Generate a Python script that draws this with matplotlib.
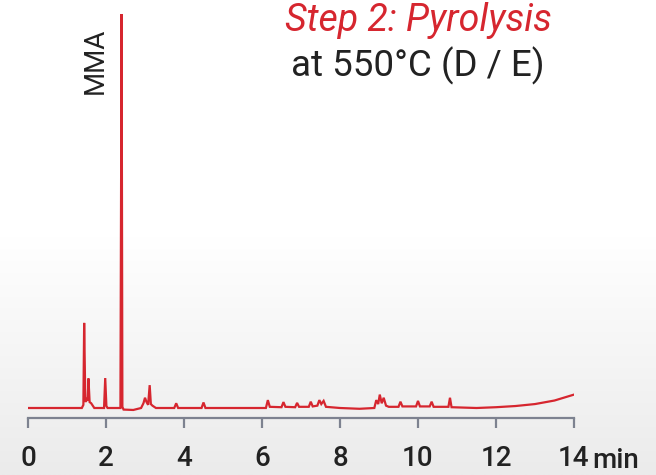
import numpy as np
import matplotlib
matplotlib.use("Agg")
import matplotlib.pyplot as plt

# ===============================
# data
# ===============================

trace_time = [0.00, 1.38, 1.42, 1.44, 1.47, 1.50, 1.53, 1.55, 1.58, 1.62, 1.70,
              1.95, 1.98, 2.01, 2.04, 2.37, 2.40, 2.42, 2.45, 2.70, 2.90, 2.96,
              3.00, 3.04, 3.08, 3.12, 3.15, 3.19, 3.28, 3.75, 3.80, 3.85, 4.45,
              4.50, 4.55, 6.10, 6.15, 6.20, 6.50, 6.55, 6.60, 6.85, 6.90, 6.95,
              7.20, 7.25, 7.30, 7.42, 7.47, 7.52, 7.58, 7.64, 8.00, 8.50, 8.88,
              8.93, 8.98, 9.02, 9.07, 9.12, 9.18, 9.25, 9.50, 9.55, 9.60, 9.95,
              10.00, 10.05, 10.30, 10.35, 10.40, 10.78, 10.82, 10.86, 11.50,
              12.00, 12.50, 13.00, 13.50, 14.00]
trace_signal = [0.0, 0.0, 0.8, 21.6, 1.5, 2.5, 1.8, 7.5, 1.5, 1.2, 0.0,
                0.0, 7.6, 0.5, 0.0, 0.0, 100.0, 0.3, -0.4, -0.5, 0.0, 1.2,
                2.6, 1.5, 0.8, 5.8, 1.0, 0.6, 0.0, 0.0, 1.2, 0.0, 0.0,
                1.4, 0.0, 0.0, 2.0, 0.3, 0.2, 1.5, 0.3, 0.2, 1.3, 0.3,
                0.3, 1.6, 0.4, 0.6, 2.0, 1.0, 1.8, 0.3, 0.0, -0.2, 0.0,
                2.0, 1.0, 3.4, 1.2, 2.6, 0.6, 0.3, 0.3, 1.6, 0.4, 0.4,
                1.8, 0.4, 0.4, 1.6, 0.3, 0.3, 2.6, 0.2, 0.0,
                0.2, 0.5, 1.0, 1.9, 3.4]

x_ticks = [0, 2, 4, 6, 8, 10, 12, 14]
x_tick_labels = ["0", "2", "4", "6", "8", "10", "12", "14"]

peak_name = "MMA"
peak_label_time = 1.72

title_step = "Step 2: Pyrolysis"
title_cond = "at 550°C (D / E)"

RED = "#d6262f"
AXIS = "#7d8290"
INK = "#222222"

# ===============================
# figure
# ===============================

plt.rcParams["font.family"] = ["Roboto", "DejaVu Sans"]

fig = plt.figure(figsize=(6.56, 4.75), dpi=100)

# soft white -> grey background
bg = fig.add_axes([0, 0, 1, 1], zorder=0)
grad = np.linspace(0, 1, 256).reshape(-1, 1)
bg.imshow(grad, aspect="auto", cmap=matplotlib.colors.LinearSegmentedColormap.from_list(
    "bg", ["#ffffff", "#ffffff", "#ebebeb"]), extent=[0, 1, 0, 1], origin="upper")
bg.axis("off")

ax = fig.add_axes([28 / 656, 1 - 418 / 475, 546 / 656, 418 / 475], zorder=1)
ax.patch.set_alpha(0)

ax.plot(trace_time, trace_signal, color=RED, lw=1.6, solid_joinstyle="miter")

ax.set_xlim(0, 14)
ax.set_ylim(-10 * 100 / 394, 100 + 14 * 100 / 394)

for s in ["top", "right", "left"]:
    ax.spines[s].set_visible(False)
ax.spines["bottom"].set_color(AXIS)
ax.spines["bottom"].set_linewidth(1.6)

ax.set_yticks([])
ax.set_xticks(x_ticks)
ax.set_xticklabels(x_tick_labels)
ax.tick_params(axis="x", direction="out", length=7.5, width=1.6, color=AXIS,
               labelsize=20, labelcolor=INK, pad=12)
for lab in ax.get_xticklabels():
    lab.set_fontweight("medium")

fig.text(592 / 656, 1 - 468 / 475, "min", fontsize=20, fontweight="medium",
         color=INK, ha="left", va="baseline")

ax.text(peak_label_time, 96.5, peak_name, rotation=90, fontsize=20,
        color=INK, ha="center", va="top")

fig.text(418 / 656, 1 - 31 / 475, title_step, color=RED, fontsize=27,
         style="italic", ha="center", va="baseline")
fig.text(418 / 656, 1 - 76 / 475, title_cond, color=INK, fontsize=26.5,
         ha="center", va="baseline")

fig.savefig("out.png", dpi=100)
